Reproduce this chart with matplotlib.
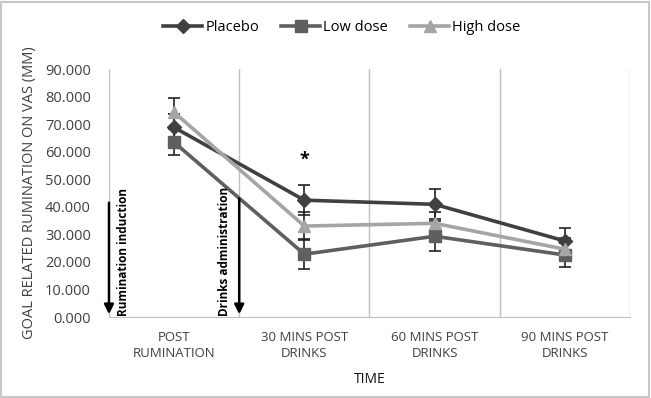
import matplotlib.pyplot as plt
from matplotlib.patches import Rectangle
from matplotlib.lines import Line2D

# categories and values
time_points = ["POST\nRUMINATION", "30 MINS POST\nDRINKS", "60 MINS POST\nDRINKS", "90 MINS POST\nDRINKS"]
placebo = [68.8, 42.4, 40.9, 27.6]
placebo_err = [5.0, 5.4, 5.5, 4.6]
low_dose = [63.4, 22.8, 29.3, 22.5]
low_dose_err = [4.7, 5.4, 5.4, 4.4]
high_dose = [74.3, 33.0, 34.0, 24.6]
high_dose_err = [5.3, 5.0, 4.0, 4.0]
y_ticks = [0, 10, 20, 30, 40, 50, 60, 70, 80, 90]

plt.rcParams['font.family'] = ['Open Sans', 'DejaVu Sans']

fig = plt.figure(figsize=(6.51, 3.98), dpi=100)
ax = fig.add_axes([0.1674, 0.2035, 0.8003, 0.6231])

x = list(range(len(time_points)))
series = [
    ("Placebo", placebo, placebo_err, "#404040", "D", 7),
    ("Low dose", low_dose, low_dose_err, "#5f5f5f", "s", 8.5),
    ("High dose", high_dose, high_dose_err, "#a5a5a5", "^", 8.5),
]
handles = []
for name, vals, errs, col, mk, ms in series:
    ax.errorbar(x, vals, yerr=errs, color=col, marker=mk, markersize=ms,
                linewidth=2.6, ecolor="#222222", elinewidth=1.2, capsize=4,
                capthick=1.2)
    handles.append(Line2D([], [], color=col, marker=mk, markersize=ms, linewidth=2.6, label=name))

ax.set_xlim(-0.5, 3.5)
ax.set_ylim(0, 90)
ax.set_yticks(y_ticks)
ax.set_yticklabels([f"{v:.3f}" for v in y_ticks], fontsize=10.5, color="#404040")
ax.set_xticks(x)
ax.set_xticklabels(time_points, fontsize=9.5, color="#404040", linespacing=1.35)
ax.tick_params(axis="y", length=0, pad=13)
ax.tick_params(axis="x", length=0, pad=10)

# vertical grid lines at category boundaries
for b in [-0.5, 0.5, 1.5, 2.5, 3.5]:
    ax.axvline(b, color="#bfbfbf", linewidth=1.0, zorder=0)
for s in ["left", "right", "top"]:
    ax.spines[s].set_visible(False)
ax.spines["bottom"].set_color("#bfbfbf")

ax.set_ylabel("GOAL RELATED RUMINATION ON VAS (MM)", fontsize=10.5, color="#404040", labelpad=6)
ax.set_xlabel("TIME", fontsize=10, color="#111111", labelpad=8)

# event arrows
ax.annotate("", xy=(-0.5, 0), xytext=(-0.5, 42.5),
            arrowprops=dict(arrowstyle="-|>", color="black", lw=1.8, mutation_scale=14),
            annotation_clip=False)
ax.text(-0.44, 0.5, "Rumination induction", rotation=90, fontsize=8.5, fontweight="bold",
        ha="left", va="bottom")
ax.annotate("", xy=(0.5, 0), xytext=(0.5, 44),
            arrowprops=dict(arrowstyle="-|>", color="black", lw=1.8, mutation_scale=14))
ax.text(0.44, 0.5, "Drinks administration", rotation=90, fontsize=8.5, fontweight="bold",
        ha="right", va="bottom")

ax.text(1, 57, "*", fontsize=13, fontweight="bold", ha="center", va="center")

fig.legend(handles=handles, loc="center", bbox_to_anchor=(0.525, 0.93), ncol=3, frameon=False,
           fontsize=10.5, handlelength=2.7, columnspacing=1.5, handletextpad=0.2)

fig.patches.append(Rectangle((0.002, 0.003), 0.995, 0.993, transform=fig.transFigure,
                             fill=False, edgecolor="#c8c8c8", linewidth=1.5))

fig.savefig("out.png", dpi=100)
